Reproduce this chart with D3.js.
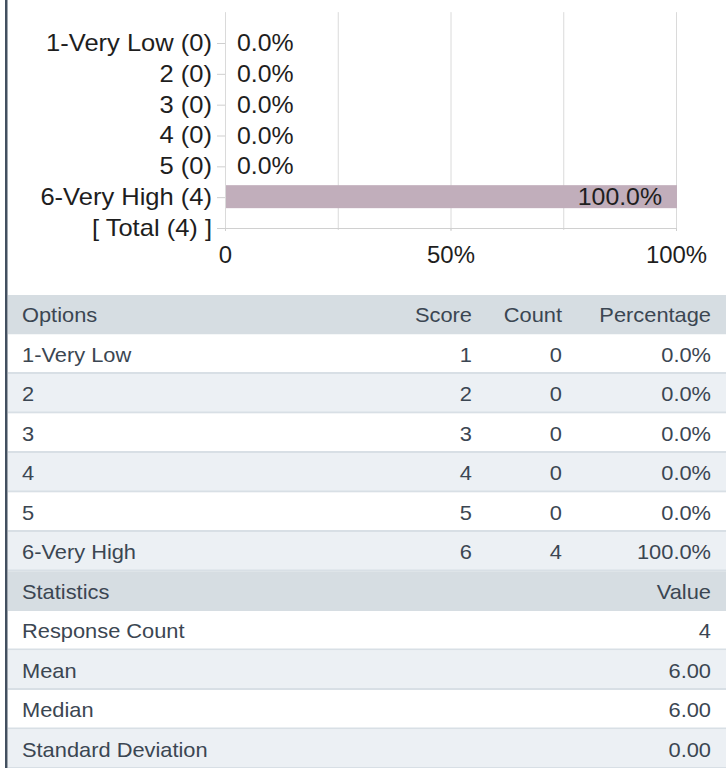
<!DOCTYPE html>
<html>
<head>
<meta charset="utf-8">
<script src="https://cdn.jsdelivr.net/npm/d3@7"></script>
<style>
  body { margin: 0; background: #fff; }
  svg { display: block; font-family: "Liberation Sans", Arial, sans-serif; }
</style>
</head>
<body>
<div id="chart"></div>
<script>
// options and results
const options = ['1-Very Low', '2', '3', '4', '5', '6-Very High'];
const scores = [1, 2, 3, 4, 5, 6];
const counts = [0, 0, 0, 0, 0, 4];
const percents = [0, 0, 0, 0, 0, 100];
const totalCount = 4;

// statistics table
const statNames = ['Response Count', 'Mean', 'Median', 'Standard Deviation'];
const statValues = ['4', '6.00', '6.00', '0.00'];

// x axis
const gridTicks = [0, 25, 50, 75, 100];
const labelTicks = [0, 50, 100];

const width = 726, height = 768;
const svg = d3.select('#chart').append('svg')
    .attr('width', width)
    .attr('height', height);

// the screenshot text is a bit wider than Liberation Sans, stretch it around its anchor
function stretch(sel, k) {
    sel.each(function () {
        const t = d3.select(this);
        const tx = +t.attr('x') || 0, ty = +t.attr('y') || 0;
        t.attr('x', 0).attr('y', 0)
            .attr('transform', `translate(${tx},${ty}) scale(${k},1)`);
    });
}

// left border of the panel
svg.append('rect')
    .attr('x', 5).attr('y', 0)
    .attr('width', 2.5).attr('height', height)
    .attr('fill', '#435060');

// ---- bar chart ----
const axisLabels = options.map((o, i) => `${o} (${counts[i]})`).concat([`[ Total (${totalCount}) ]`]);

const x = d3.scaleLinear().domain([0, 100]).range([225, 676]);
const y = d3.scalePoint().domain(axisLabels).range([43, 228]);
const plotTop = y(axisLabels[0]) - y.step();
const plotBottom = y(axisLabels[axisLabels.length - 1]);

// grid
svg.append('g')
    .selectAll('line')
    .data(gridTicks)
    .enter().append('line')
    .attr('x1', d => x(d) + 0.5).attr('x2', d => x(d) + 0.5)
    .attr('y1', plotTop).attr('y2', plotBottom + 2)
    .attr('stroke', '#dadada');

svg.append('line')
    .attr('x1', x(0)).attr('x2', x(100) + 1)
    .attr('y1', plotBottom + 0.5).attr('y2', plotBottom + 0.5)
    .attr('stroke', '#d0d0d0');

// bars
svg.append('g')
    .selectAll('rect')
    .data(percents)
    .enter().append('rect')
    .attr('x', x(0) + 1)
    .attr('y', (d, i) => y(axisLabels[i]) - 12)
    .attr('width', d => Math.max(0, x(d) - x(0)))
    .attr('height', 23)
    .attr('fill', '#c1aebb');

// value labels
const valueLabels = svg.append('g')
    .selectAll('text')
    .data(percents)
    .enter().append('text')
    .attr('x', d => (x(d) - x(0) > 100) ? x(d) - 14 : x(d) + 12)
    .attr('y', (d, i) => y(axisLabels[i]))
    .attr('dy', '0.35em')
    .attr('text-anchor', d => (x(d) - x(0) > 100) ? 'end' : 'start')
    .style('font-size', '23px')
    .attr('fill', '#1e1e1e')
    .text(d => d.toFixed(1) + '%');
stretch(valueLabels, 1.08);

// category axis
const yAxis = svg.append('g')
    .attr('transform', `translate(${x(0)},0)`)
    .call(d3.axisLeft(y).tickSize(8).tickPadding(5));
yAxis.select('.domain').remove();
yAxis.selectAll('.tick line').attr('stroke', '#cfcfcf');
yAxis.selectAll('.tick text')
    .style('font-size', '23px')
    .style('font-family', '"Liberation Sans", Arial, sans-serif')
    .attr('fill', '#1e1e1e');
stretch(yAxis.selectAll('.tick text'), 1.11);

// percent axis
const xAxis = svg.append('g')
    .attr('transform', `translate(0,${plotBottom})`)
    .call(d3.axisBottom(x).tickValues(labelTicks)
        .tickFormat(d => d === 0 ? '0' : d + '%')
        .tickSize(3).tickPadding(16));
xAxis.select('.domain').remove();
xAxis.selectAll('.tick line').attr('stroke', '#cfcfcf');
xAxis.selectAll('.tick text')
    .style('font-size', '23px')
    .style('font-family', '"Liberation Sans", Arial, sans-serif')
    .attr('fill', '#1e1e1e');
stretch(xAxis.selectAll('.tick text'), 1.04);

// ---- table ----
const tableRows = [{ cells: ['Options', 'Score', 'Count', 'Percentage'], head: true }]
    .concat(options.map((o, i) => ({ cells: [o, scores[i], counts[i], percents[i].toFixed(1) + '%'] })))
    .concat([{ cells: ['Statistics', '', '', 'Value'], head: true }])
    .concat(statNames.map((s, i) => ({ cells: [s, '', '', statValues[i]] })));

const rowY = d3.scaleBand()
    .domain(d3.range(tableRows.length))
    .range([295, 295 + 39.5 * tableRows.length]);

const colRight = [null, 472, 562, 711];
const tableLeft = 8;

const row = svg.append('g')
    .selectAll('g')
    .data(tableRows)
    .enter().append('g')
    .attr('transform', (d, i) => `translate(0,${rowY(i)})`);

let band = 0;
row.append('rect')
    .attr('x', tableLeft)
    .attr('width', width - tableLeft)
    .attr('height', rowY.bandwidth())
    .attr('fill', d => {
        if (d.head) { band = 0; return '#d6dde2'; }
        band++;
        return band % 2 === 0 ? '#ecf0f4' : '#ffffff';
    });

row.filter(d => !d.head).append('rect')
    .attr('x', tableLeft)
    .attr('y', rowY.bandwidth() - 2)
    .attr('width', width - tableLeft)
    .attr('height', 2)
    .attr('fill', '#d8dfe5');

row.each(function (d) {
    const g = d3.select(this);
    d.cells.forEach((c, j) => {
        if (c === '') return;
        g.append('text')
            .attr('x', j === 0 ? 22 : colRight[j])
            .attr('y', rowY.bandwidth() / 2)
            .attr('dy', '0.35em')
            .attr('text-anchor', j === 0 ? 'start' : 'end')
            .style('font-size', '21px')
            .attr('fill', '#3b4652')
            .text(c);
    });
});
stretch(row.selectAll('text'), 1.04);
</script>
</body>
</html>
